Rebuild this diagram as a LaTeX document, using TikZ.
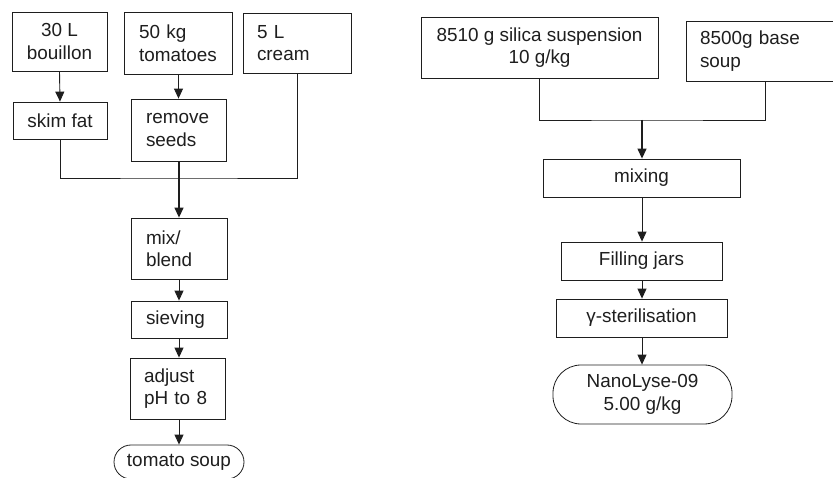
\documentclass[tikz,border=0pt]{standalone}
\usepackage{fontspec}
\setmainfont{Liberation Sans}
\usetikzlibrary{arrows.meta}
\definecolor{ink}{HTML}{1E1E1E}
\tikzset{
  box/.style={draw=ink, line width=0.8pt, inner sep=0pt, text=ink, font=\fontsize{18.9}{22.5}\selectfont},
  lbox/.style={box, align=left},
  cbox/.style={box, align=center},
  term/.style={box, align=center, rounded corners=#1},
  link/.style={draw=ink, line width=0.9pt},
  trunk/.style={draw=ink, line width=1.3pt},
  arr/.style={-{Triangle[length=10pt,width=9pt]}},
}
\begin{document}
\begin{tikzpicture}[x=1pt,y=-1pt]
\clip (0,0) rectangle (833,478);
% ---- left flow ----
\node[cbox, minimum width=95, minimum height=59] (b1) at (59.5,41.5) {30 L\\bouillon};
\node[lbox, minimum width=108, minimum height=62, text width=78] (b2) at (178,43) {50 kg\\tomatoes};
\node[lbox, minimum width=108, minimum height=60, text width=80] (b3) at (297,43) {5 L\\cream};
\node[cbox, minimum width=94, minimum height=37] (b4) at (60,120.5) {skim fat};
\node[lbox, minimum width=95, minimum height=62, text width=65] (b5) at (178.5,130) {remove\\seeds};
\node[lbox, minimum width=96, minimum height=61, text width=66] (b6) at (179,248.5) {mix/\\blend};
\node[lbox, minimum width=96, minimum height=37, text width=66] (b7) at (179,319.5) {sieving};
\node[lbox, minimum width=95, minimum height=61, text width=67] (b8) at (177.5,388.5) {adjust\\pH to 8};
\node[term=17pt, minimum width=130, minimum height=34] (b9) at (179,462) {tomato soup};
\coordinate (jl) at (179,178);
\draw[link,arr] (b1.south) -- (b4.north);
\draw[link,arr] (b2.south -| b5.north) -- (b5.north);
\draw[link] (b4.south) |- (jl) -| (b3.south);
\draw[trunk,arr] (b5.south -| jl) -- (b6.north -| jl);
\draw[link,arr] (b6.south -| jl) -- (b7.north -| jl);
\draw[link,arr] (b7.south -| jl) -- (b8.north -| jl);
\draw[link,arr] (b8.south -| jl) -- (b9.north -| jl);
% ---- right flow ----
\node[cbox, minimum width=237, minimum height=61] (r1) at (539.5,47.5) {8510 g silica suspension\\10 g/kg};
\node[lbox, minimum width=158, minimum height=60, text width=130] (r2) at (765,51) {8500g base\\soup};
\node[cbox, minimum width=197, minimum height=38] (r3) at (641.5,178) {mixing};
\node[cbox, minimum width=161, minimum height=38] (r4) at (641.5,261) {Filling jars};
\node[cbox, minimum width=171, minimum height=38] (r5) at (641.5,318) {γ-sterilisation};
\node[term=28pt, minimum width=179, minimum height=59] (r6) at (642.5,394.5) {NanoLyse-09\\5.00 g/kg};
\coordinate (jr) at (642,120);
\draw[link] (r1.south) |- (jr) -| (r2.south);
\draw[trunk,arr] (jr) -- (r3.north -| jr);
\draw[link,arr] (r3.south -| jr) -- (r4.north -| jr);
\draw[link,arr] (r4.south -| jr) -- (r5.north -| jr);
\draw[link,arr] (r5.south -| jr) -- (r6.north -| jr);
\end{tikzpicture}
\end{document}
